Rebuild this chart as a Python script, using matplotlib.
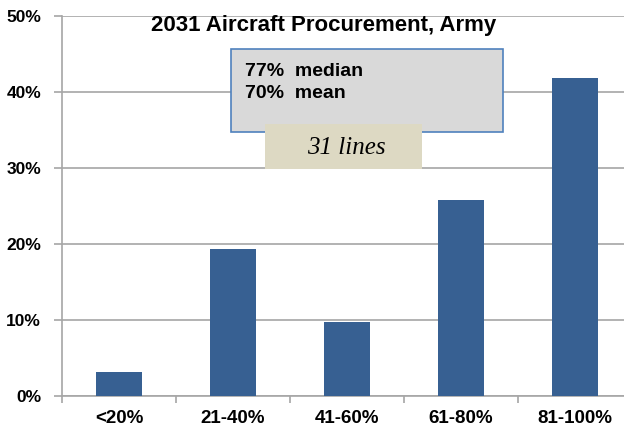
import matplotlib.pyplot as plt
from matplotlib.patches import Rectangle
from matplotlib.ticker import PercentFormatter, FixedLocator, NullFormatter

categories = ['<20%', '21-40%', '41-60%', '61-80%', '81-100%']
shares = [3.2, 19.4, 9.7, 25.8, 41.9]
y_ticks = [0, 10, 20, 30, 40, 50]

plt.rcParams['font.family'] = 'Liberation Sans'
plt.rcParams['font.weight'] = 'bold'

W, H = 624, 430
fig = plt.figure(figsize=(W / 100, H / 100), dpi=100)
ax = fig.add_axes([62 / W, 1 - 396 / H, 570 / W, 380 / H])

x = list(range(len(categories)))
ax.bar(x, shares, width=0.4, color='#376092', zorder=3)

ax.set_xlim(-0.5, len(categories) - 0.5)
ax.set_ylim(0, 50)
ax.set_yticks(y_ticks)
ax.yaxis.set_major_formatter(PercentFormatter(decimals=0))
ax.grid(axis='y', color='#a6a6a6', linewidth=1.2, zorder=0)

ax.set_xticks(x)
ax.set_xticklabels(categories)
ax.xaxis.set_minor_locator(FixedLocator([i - 0.5 for i in range(len(categories) + 1)]))
ax.xaxis.set_minor_formatter(NullFormatter())
ax.tick_params(axis='x', which='major', length=0, pad=10, labelsize=13.5)
ax.tick_params(axis='x', which='minor', length=5, color='#a6a6a6', width=1.2)
ax.tick_params(axis='y', length=6, color='#a6a6a6', width=1.2, labelsize=12.5, pad=9, direction='out')
for t in ax.get_yticklabels() + ax.get_xticklabels():
    t.set_fontweight('bold')

for s in ['top', 'right']:
    ax.spines[s].set_visible(False)
for s in ['left', 'bottom']:
    ax.spines[s].set_color('#a6a6a6')
    ax.spines[s].set_linewidth(1.2)

fig.text(324 / W, 1 - 25 / H, '2031 Aircraft Procurement, Army', ha='center', va='center',
         fontsize=16, fontweight='bold')

# stats box
fig.patches.append(Rectangle((231 / W, 1 - 132 / H), 272 / W, 83 / H, transform=fig.transFigure,
                             facecolor='#d9d9d9', edgecolor='#4f81bd', linewidth=1.2, zorder=5))
fig.text(245 / W, 1 - 71 / H, '77%  median', ha='left', va='center', fontsize=14,
         fontweight='bold', zorder=6)
fig.text(245 / W, 1 - 94 / H, '70%  mean', ha='left', va='center', fontsize=14,
         fontweight='bold', zorder=6)

# count box
fig.patches.append(Rectangle((265 / W, 1 - 169 / H), 157 / W, 45 / H, transform=fig.transFigure,
                             facecolor='#ddd9c3', edgecolor='none', zorder=7))
fig.text(346 / W, 1 - 148 / H, '31 lines', ha='center', va='center', fontsize=18,
         family='Liberation Serif', style='italic', fontweight='normal', zorder=8)

fig.savefig('out.png', dpi=100)
